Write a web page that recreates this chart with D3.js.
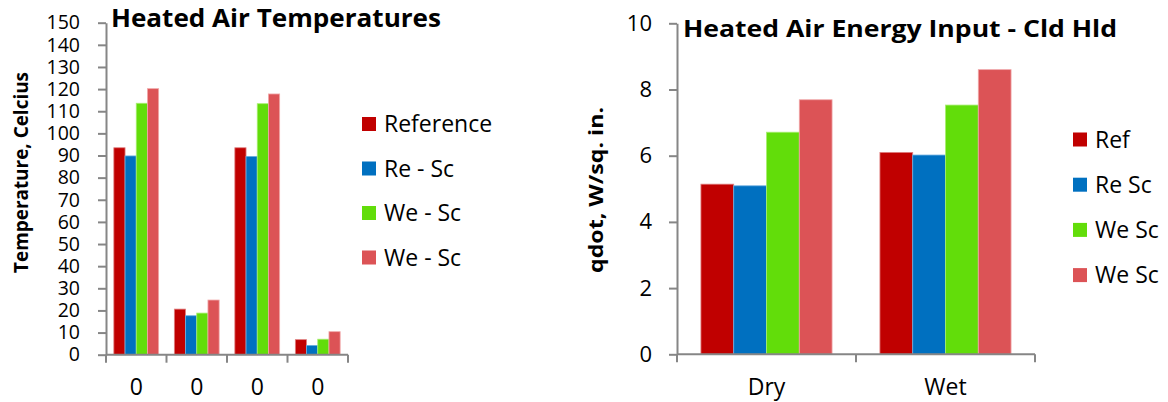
<!DOCTYPE html>
<html>
<head>
<meta charset="utf-8">
<script src="https://cdn.jsdelivr.net/npm/d3@7"></script>
<style>
  html, body { margin: 0; padding: 0; background: #fff; }
  svg { display: block; font-family: "Open Sans", Lato, sans-serif; }
</style>
</head>
<body>
<svg id="chart" width="1168" height="402"></svg>
<script>
// Heated air temperatures (°C), four unnamed cases
const tempCategories = ["0a", "0b", "0c", "0d"];
const tempCategoryLabels = ["0", "0", "0", "0"];
const tempSeriesNames = ["Reference", "Re - Sc", "We - Sc", "We - Sc"];
const tempReference = [93.5, 20.6, 93.5, 6.8];
const tempReSc = [89.8, 17.6, 89.6, 4.2];
const tempWeSc1 = [113.6, 18.8, 113.4, 7.0];
const tempWeSc2 = [120.2, 24.7, 117.8, 10.4];
const tempTicks = [0, 10, 20, 30, 40, 50, 60, 70, 80, 90, 100, 110, 120, 130, 140, 150];

// Heated air energy input, cold-hold conditions (W/sq. in.)
const energyCategories = ["Dry", "Wet"];
const energySeriesNames = ["Ref", "Re Sc", "We Sc", "We Sc"];
const energyRef = [5.14, 6.10];
const energyReSc = [5.09, 6.02];
const energyWeSc1 = [6.71, 7.53];
const energyWeSc2 = [7.69, 8.60];
const energyTicks = [0, 2, 4, 6, 8, 10];

const seriesColors = ["#C00000", "#0070C0", "#62DD0A", "#DC5356"];
const seriesEdges = ["#E08080", "#6AAEE0", "#A8EE70", "#F0A8AA"];

const svg = d3.select("#chart");
const axisColor = "#868686";

function drawPanel(cfg) {
  const g = svg.append("g");
  const x = d3.scaleBand().domain(cfg.categories).range([cfg.x0, cfg.x1]).paddingInner(0).paddingOuter(0);
  const y = d3.scaleLinear().domain(cfg.yDomain).range([cfg.y0, cfg.y1]);
  const xs = d3.scaleBand().domain(d3.range(cfg.series.length)).range([0, x.bandwidth()])
    .paddingInner(0).paddingOuter(cfg.outerPad);

  // bars
  cfg.series.forEach((vals, si) => {
    g.append("g").selectAll("rect").data(vals).join("rect")
      .attr("x", (d, i) => x(cfg.categories[i]) + xs(si))
      .attr("y", d => y(d))
      .attr("width", xs.bandwidth())
      .attr("height", d => y(0) - y(d))
      .attr("fill", seriesColors[si])
      .attr("stroke", seriesEdges[si])
      .attr("stroke-width", 0.8);
  });

  // y axis
  const yAxis = d3.axisLeft(y).tickValues(cfg.yTicks).tickSize(8).tickPadding(cfg.yPad).tickSizeOuter(0);
  const ya = g.append("g").attr("transform", `translate(${cfg.x0},0)`).call(yAxis);
  ya.select(".domain").attr("stroke", axisColor).attr("stroke-width", 2);
  ya.selectAll(".tick line").attr("stroke", axisColor).attr("stroke-width", 2);
  ya.selectAll(".tick text").attr("fill", "#000").attr("font-size", cfg.yTickFont)
    .attr("font-family", "'Open Sans', sans-serif");

  // x axis with boundary ticks between categories
  const edges = cfg.categories.map(c => x(c)).concat([cfg.x1]);
  const xa = g.append("g");
  xa.append("line").attr("x1", cfg.x0).attr("x2", cfg.x1).attr("y1", y(0)).attr("y2", y(0))
    .attr("stroke", axisColor).attr("stroke-width", 2);
  xa.selectAll("line.edge").data(edges).join("line").attr("class", "edge")
    .attr("x1", d => d).attr("x2", d => d).attr("y1", y(0)).attr("y2", y(0) + 8)
    .attr("stroke", axisColor).attr("stroke-width", 2);
  xa.selectAll("text").data(cfg.categories).join("text")
    .attr("x", d => x(d) + x.bandwidth() / 2)
    .attr("y", cfg.xLabelY)
    .attr("text-anchor", "middle")
    .attr("font-size", cfg.xTickFont)
    .text((d, i) => cfg.categoryLabels[i]);

  // title
  g.append("text").attr("x", cfg.titleX).attr("y", cfg.titleY)
    .attr("font-weight", "bold").attr("font-size", cfg.titleFont)
    .attr("textLength", cfg.titleLen).attr("lengthAdjust", "spacingAndGlyphs")
    .text(cfg.title);

  // y axis title
  g.append("text")
    .attr("transform", `translate(${cfg.yTitleX},${cfg.yTitleY}) rotate(-90)`)
    .attr("text-anchor", "middle").attr("font-weight", "bold").attr("font-size", 19)
    .attr("textLength", cfg.yTitleLen).attr("lengthAdjust", "spacingAndGlyphs")
    .text(cfg.yTitle);

  // legend
  const lg = g.append("g");
  cfg.seriesNames.forEach((name, i) => {
    const cy = cfg.legendY + i * cfg.legendStep;
    lg.append("rect").attr("x", cfg.legendX).attr("y", cy - 7).attr("width", 14).attr("height", 14)
      .attr("fill", seriesColors[i]);
    lg.append("text").attr("x", cfg.legendX + 22).attr("y", cy + 8)
      .attr("font-size", 23).text(name);
  });
}

drawPanel({
  categories: tempCategories,
  categoryLabels: tempCategoryLabels,
  series: [tempReference, tempReSc, tempWeSc1, tempWeSc2],
  seriesNames: tempSeriesNames,
  yDomain: [0, 150], yTicks: tempTicks,
  x0: 106, x1: 348, y0: 354.7, y1: 22.7,
  outerPad: 0.7, yPad: 18, yTickFont: 19.5, xTickFont: 23, xLabelY: 395,
  title: "Heated Air Temperatures", titleX: 111, titleY: 27, titleFont: 25, titleLen: 330,
  yTitle: "Temperature, Celcius", yTitleX: 28, yTitleY: 172.5, yTitleLen: 201,
  legendX: 362, legendY: 124, legendStep: 44.5
});

drawPanel({
  categories: energyCategories,
  categoryLabels: energyCategories,
  series: [energyRef, energyReSc, energyWeSc1, energyWeSc2],
  seriesNames: energySeriesNames,
  yDomain: [0, 10], yTicks: energyTicks,
  x0: 677, x1: 1035, y0: 354.3, y1: 23.3,
  outerPad: 0.73, yPad: 17, yTickFont: 22, xTickFont: 23, xLabelY: 395,
  title: "Heated Air Energy Input - Cld Hld", titleX: 683, titleY: 37, titleFont: 24, titleLen: 434,
  yTitle: "qdot, W/sq. in.", yTitleX: 603, yTitleY: 190, yTitleLen: 166,
  legendX: 1073, legendY: 139.5, legendStep: 45.2
});
</script>
</body>
</html>
